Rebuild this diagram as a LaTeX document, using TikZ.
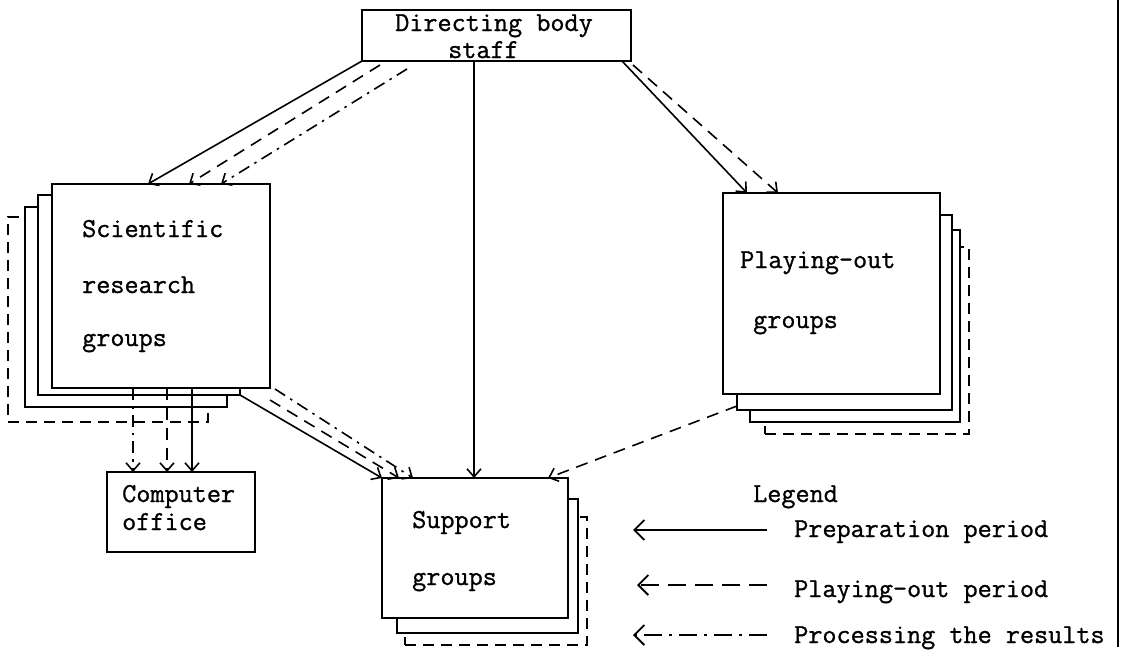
\documentclass[tikz,border=0pt]{standalone}
\usepackage{fontspec}
\setmonofont{Latin Modern Mono}[FakeBold=1]
\usetikzlibrary{arrows.meta,calc}
\begin{document}
\begin{tikzpicture}[x=1pt,y=-1pt,
  box/.style={draw, line width=2.2pt, fill=white, rectangle, inner sep=0pt, outer sep=0pt, anchor=north west},
  dbox/.style={box, line width=1.8pt, dash pattern=on 11pt off 7pt},
  txt/.style={inner sep=0pt, anchor=base west, font=\ttfamily\fontsize{27.4}{28}\selectfont},
  conn/.style={line width=1.6pt, -{Straight Barb[length=8pt,width=14pt,line width=1.6pt]}},
  prep/.style={conn},
  playp/.style={conn, dash pattern=on 12pt off 8pt},
  proc/.style={conn, dash pattern=on 12pt off 6pt on 2.5pt off 6pt},
  leg/.style={line width=1.8pt, -{Straight Barb[length=10pt,width=20pt,line width=1.8pt]}}
]
\useasboundingbox (0,0) rectangle (1123,656);

% Directing body
\node[box, minimum width=269pt, minimum height=51pt] (dir) at (362,10) {};
\node[txt] (dirt1) at (395,31) {Directing body};
\node[txt] (dirt2) at (448,58) {staff};

% Scientific research groups stack
\node[dbox, minimum width=200pt, minimum height=205pt] (sci4) at (8,217) {};
\node[box, minimum width=202pt, minimum height=200pt] (sci3) at (25,207) {};
\node[box, minimum width=202pt, minimum height=200pt] (sci2) at (38,195) {};
\node[box, minimum width=218pt, minimum height=204pt] (sci) at (52,184) {};
\node[txt] (scit1) at (82,237) {Scientific};
\node[txt] (scit2) at (82,293) {research};
\node[txt] (scit3) at (82,346) {groups};

% Playing-out groups stack
\node[dbox, minimum width=204pt, minimum height=187pt] (play4) at (765,247) {};
\node[box, minimum width=210pt, minimum height=192pt] (play3) at (750,230) {};
\node[box, minimum width=215pt, minimum height=195pt] (play2) at (737,215) {};
\node[box, minimum width=217pt, minimum height=201pt] (play) at (723,193) {};
\node[txt] (playt1) at (740,268) {Playing-out};
\node[txt] (playt2) at (753,328) {groups};

% Support groups stack
\node[dbox, minimum width=182pt, minimum height=128pt] (sup3) at (405,517) {};
\node[box, minimum width=181pt, minimum height=134pt] (sup2) at (397,499) {};
\node[box, minimum width=186pt, minimum height=140pt] (sup) at (382,478) {};
\node[txt] (supt1) at (412,528) {Support};
\node[txt] (supt2) at (412,585) {groups};

% Computer office
\node[box, minimum width=148pt, minimum height=80pt] (comp) at (107,472) {};
\node[txt] (compt1) at (122,502) {Computer};
\node[txt] (compt2) at (122,530) {office};

% Connectors from directing body
\draw[prep] (dir.south west) -- ($(sci.north west)+(96,0)$);
\draw[playp] ($(dir.south west)+(18,4)$) -- ($(sci.north west)+(137,0)$);
\draw[proc] ($(dir.south west)+(45,8)$) -- ($(sci.north west)+(169,0)$);
\draw[prep] ($(dir.south west)+(112,0)$) -- ($(sup.north west)+(92,0)$);
\draw[prep] ($(dir.south east)+(-9,0)$) -- ($(play.north west)+(24,0)$);
\draw[playp] ($(dir.south east)+(2,4)$) -- ($(play.north west)+(55,0)$);

% Scientific -> Computer office
\draw[proc] ($(sci.south west)+(81,0)$) -- ($(comp.north west)+(26,0)$);
\draw[playp] ($(sci.south west)+(115,0)$) -- ($(comp.north west)+(60,0)$);
\draw[prep] ($(sci.south west)+(140,0)$) -- ($(comp.north west)+(85,0)$);

% Scientific -> Support
\draw[prep] (sci2.south east) -- (sup.north west);
\draw[playp] ($(sci.south east)+(0,12)$) -- ($(sup.north west)+(17,0)$);
\draw[proc] ($(sci.south east)+(5,1)$) -- ($(sup.north west)+(31,0)$);

% Playing-out -> Support
\draw[playp] ($(play2.south west)+(0,-4)$) -- ($(sup.north east)+(-20,0)$);

% Legend
\node[txt] (legt) at (753,502) {Legend};
\coordinate (l1a) at (767,530); \coordinate (l1b) at (633,530);
\coordinate (l2a) at (767,585); \coordinate (l2b) at (637,585);
\coordinate (l3a) at (767,635); \coordinate (l3b) at (633,635);
\draw[leg] (l1a) -- (l1b);
\draw[leg, dash pattern=on 18pt off 9pt] (l2a) -- (l2b);
\draw[leg, dash pattern=on 18pt off 7pt on 3pt off 7pt] (l3a) -- (l3b);
\node[txt] (legp1) at (794,537) {Preparation period};
\node[txt] (legp2) at (794,597) {Playing-out period};
\node[txt] (legp3) at (794,643) {Processing the results};

% right border rule
\draw[line width=1.5pt] (1118,0) -- (1118,647);
\end{tikzpicture}
\end{document}
